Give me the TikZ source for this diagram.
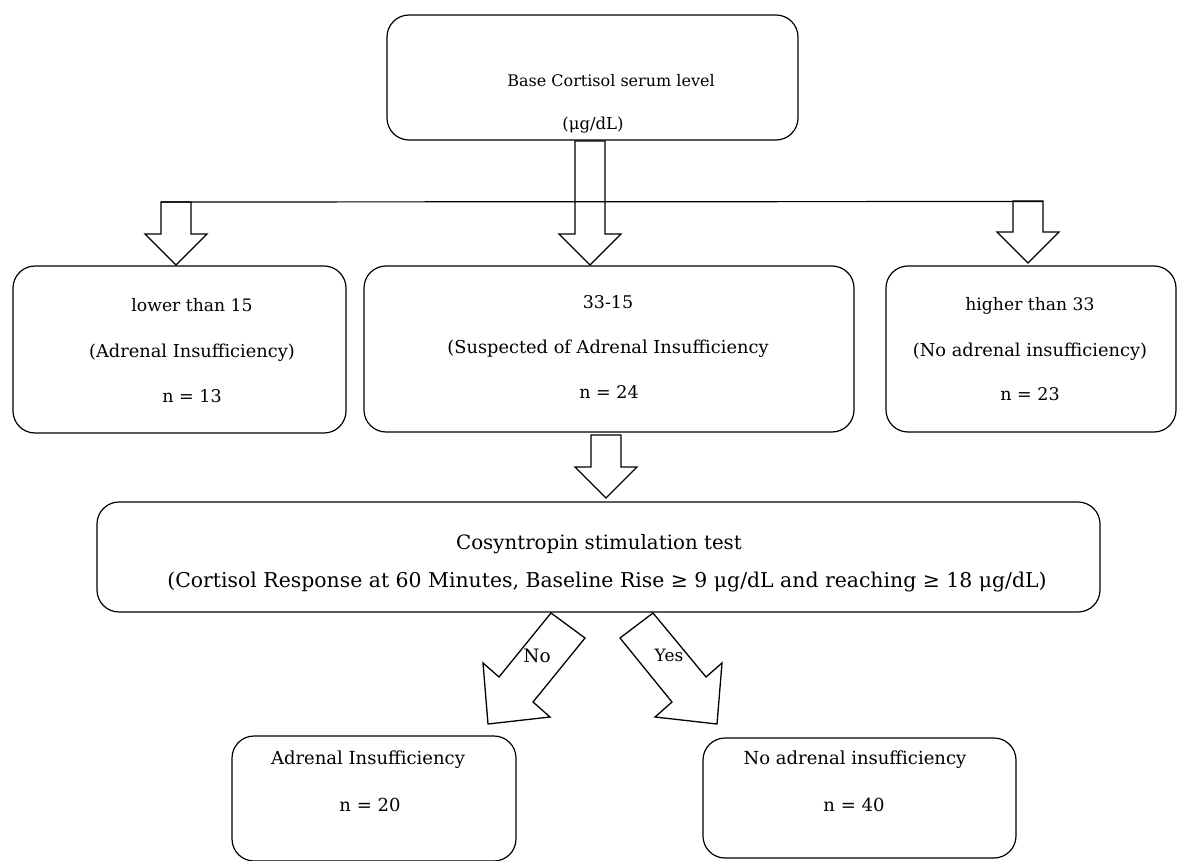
\documentclass[tikz,border=0pt]{standalone}
\usepackage{fontspec}
\setmainfont{DejaVu Serif}
\begin{document}
\begin{tikzpicture}[x=1pt,y=-1pt, line width=1.2pt,
  box/.style={draw, rounded corners=22pt, inner sep=0pt},
  txt/.style={font=\fontsize{#1}{18}\selectfont, inner sep=0pt, text height=11pt, text depth=3pt},
  txt/.default=17.5,
  blk/.style={draw, line width=1.3pt, line join=miter},
  pics/blockdown/.style={code={\draw[blk] (-15,0) -- (-15,{#1-31}) -- (-31,{#1-31}) -- (0,#1) -- (31,{#1-31}) -- (15,{#1-31}) -- (15,0) -- cycle;}}]
\useasboundingbox (0,0) rectangle (1191,861);

% boxes
\node[box, minimum width=411pt, minimum height=125pt] (top) at (592.5,77.5) {};
\node[box, minimum width=333pt, minimum height=167pt] (low) at (179.5,349.5) {};
\node[box, minimum width=490pt, minimum height=166pt] (mid) at (609,349) {};
\node[box, minimum width=290pt, minimum height=166pt] (high) at (1031,349) {};
\node[box, minimum width=1003pt, minimum height=110pt] (cosy) at (598.5,557) {};
\node[box, minimum width=284pt, minimum height=125pt] (ai) at (374,798.5) {};
\node[box, minimum width=313pt, minimum height=120pt] (noai) at (859.5,798) {};

% texts
\node[txt=16] (t1) at (611,83) {Base Cortisol serum level};
\node[txt=16.5] (t2) at (593,126) {(μg/dL)};
\node[txt=17.2] (t3) at (192,307) {lower than 15};
\node[txt=17.8] (t4) at (192,353) {(Adrenal Insufficiency)};
\node[txt=17.5] (t5) at (192,398) {n = 13};
\node[txt=17.5] (t6) at (608,304) {33-15};
\node[txt=17.8] (t7) at (608,349) {(Suspected of Adrenal Insufficiency};
\node[txt=17.5] (t8) at (609,394) {n = 24};
\node[txt=17.2] (t9) at (1030,306) {higher than 33};
\node[txt=17.8] (t10) at (1030,352) {(No adrenal insufficiency)};
\node[txt=17.5] (t11) at (1030,396) {n = 23};
\node[txt=19.8] (t12) at (599,545) {Cosyntropin stimulation test};
\node[txt=20.4] (t13) at (607,583) {(Cortisol Response at 60 Minutes, Baseline Rise ≥ 9 μg/dL and reaching ≥ 18 μg/dL)};
\node[txt=18] (t14) at (368,760) {Adrenal Insufficiency};
\node[txt=18] (t15) at (370,807) {n = 20};
\node[txt=18] (t16) at (855,760) {No adrenal insufficiency};
\node[txt=18] (t17) at (854,807) {n = 40};

% distribution line and block arrows
\draw (161,202) -- (1043,201.5);
\pic at (590,141) {blockdown=124};
\pic at (176,202) {blockdown=63};
\pic at (1028,201) {blockdown=62};
\pic at (606,435) {blockdown=63};

% diagonal block arrows
\draw[blk] (551,613) -- (585,638) -- (533,702) -- (550,717) -- (488,724) -- (483,663) -- (499,677) -- cycle;
\draw[blk] (653,613) -- (620,638) -- (672,702) -- (655,717) -- (717,724) -- (722,663) -- (706,677) -- cycle;
\node[txt=18.5] (no) at (537,658) {No};
\node[txt=17] (yes) at (669,657) {Yes};
\end{tikzpicture}
\end{document}
